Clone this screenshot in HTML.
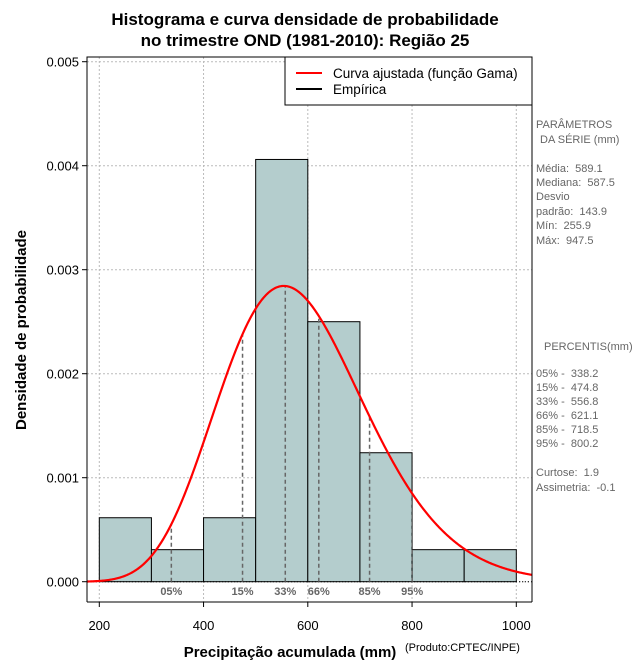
<!DOCTYPE html>
<html><head><meta charset="utf-8"><style>
body{margin:0;background:#fff;}
svg{display:block;font-family:"Liberation Sans",sans-serif;}
svg text{white-space:pre;}
</style></head><body>
<svg id="c" width="640" height="660" xmlns="http://www.w3.org/2000/svg">
<rect width="640" height="660" fill="#fff"/>
<text x="305" y="25" text-anchor="middle" font-size="17" font-weight="bold">Histograma e curva densidade de probabilidade</text>
<text x="305" y="46" text-anchor="middle" font-size="17" font-weight="bold">no trimestre OND (1981-2010): Região 25</text>
<g id="grid"></g>
<g id="bars"></g>
<g id="pct"></g>
<path id="curve" fill="none" stroke="#ff0000" stroke-width="2.2"/>
<g id="axes"></g>
<text x="290" y="657" text-anchor="middle" font-size="15" font-weight="bold">Precipitação acumulada (mm)</text>
<text x="405" y="651" font-size="11">(Produto:CPTEC/INPE)</text>
<text transform="translate(26,330) rotate(-90)" text-anchor="middle" font-size="15" font-weight="bold">Densidade de probabilidade</text>
<g>
<rect x="285" y="57" width="247" height="48" fill="#fff" stroke="#000" stroke-width="1"/>
<line x1="296" y1="73" x2="322" y2="73" stroke="#ff0000" stroke-width="2"/>
<line x1="296" y1="89" x2="322" y2="89" stroke="#000" stroke-width="2"/>
<text x="333" y="78" font-size="13.5">Curva ajustada (função Gama)</text>
<text x="333" y="94" font-size="13.5">Empírica</text>
</g>
<g font-size="11" fill="#666">
<text x="536" y="128">PARÂMETROS</text>
<text x="540" y="143">DA SÉRIE (mm)</text>
<text x="536" y="172">Média:  589.1</text>
<text x="536" y="186">Mediana:  587.5</text>
<text x="536" y="200">Desvio</text>
<text x="536" y="215">padrão:  143.9</text>
<text x="536" y="229">Mín:  255.9</text>
<text x="536" y="244">Máx:  947.5</text>
<text x="544" y="350">PERCENTIS(mm)</text>
<text x="536" y="377">05% -  338.2</text>
<text x="536" y="391">15% -  474.8</text>
<text x="536" y="405">33% -  556.8</text>
<text x="536" y="419">66% -  621.1</text>
<text x="536" y="433">85% -  718.5</text>
<text x="536" y="447">95% -  800.2</text>
<text x="536" y="476">Curtose:  1.9</text>
<text x="536" y="491">Assimetria:  -0.1</text>
</g>
</svg>
<script>
const binStarts=[200,300,400,500,600,700,800,900];
const binDensity=[0.000615,0.000308,0.000615,0.00406,0.0025,0.00124,0.000308,0.000308];
const binWidth=100;
const xTicks=[200,400,600,800,1000];
const yTicks=[0,0.001,0.002,0.003,0.004,0.005];
const yTickLabels=["0.000","0.001","0.002","0.003","0.004","0.005"];
const pctLabels=["05%","15%","33%","66%","85%","95%"];
const pctValues=[338.2,474.8,556.8,621.1,718.5,800.2];
const seriesMean=[589.1];
const seriesSd=[143.9];

const NS="http://www.w3.org/2000/svg";
const L=87,R=532,T=57,B=602;
function X(v){return 99.3+(v-200)*0.52125;}
function Y(d){return 581.7-d*104000;}
function mk(tag,attrs,parent){const e=document.createElementNS(NS,tag);for(const k in attrs)e.setAttribute(k,attrs[k]);parent.appendChild(e);return e;}
function lgamma(z){const g=7,c=[0.99999999999980993,676.5203681218851,-1259.1392167224028,771.32342877765313,-176.61502916214059,12.507343278686905,-0.13857109526572012,9.9843695780195716e-6,1.5056327351493116e-7];z-=1;let x=c[0];for(let i=1;i<g+2;i++)x+=c[i]/(z+i);const t=z+g+0.5;return 0.5*Math.log(2*Math.PI)+(z+0.5)*Math.log(t)-t+Math.log(x);}
const k=Math.pow(seriesMean[0]/seriesSd[0],2), th=seriesSd[0]*seriesSd[0]/seriesMean[0];
function pdf(v){if(v<=0)return 0;return Math.exp((k-1)*Math.log(v)-v/th-lgamma(k)-k*Math.log(th));}
function V(px){return 200+(px-99.3)/0.52125;}

const grid=document.getElementById('grid');
xTicks.forEach(t=>{const l=mk('line',{x1:X(t),x2:X(t),y1:T,y2:B,stroke:'#bbb','stroke-dasharray':'2,2'},grid);

});
yTicks.forEach(t=>{const l=mk('line',{x1:L,x2:R,y1:Y(t),y2:Y(t),stroke:'#bbb','stroke-dasharray':'2,2'},grid);

});

const bars=document.getElementById('bars');
binStarts.forEach((s,i)=>{const r=mk('rect',{x:X(s),y:Y(binDensity[i]),width:X(s+binWidth)-X(s),height:Y(0)-Y(binDensity[i]),fill:'#b4cdcd',stroke:'#000','stroke-width':1},bars);

});
mk('line',{x1:L,x2:R,y1:Y(0),y2:Y(0),stroke:'#000','stroke-dasharray':'1,2'},bars);

const pct=document.getElementById('pct');
pctValues.forEach((v,i)=>{const l=mk('line',{x1:X(v),x2:X(v),y1:Y(0),y2:Y(pdf(v)),stroke:'#666','stroke-width':1.5,'stroke-dasharray':'4,3'},pct);


const t=mk('text',{x:X(v),y:595,'text-anchor':'middle','font-size':11,'font-weight':'bold',fill:'#666'},pct);t.textContent=pctLabels[i];

});

let d='';for(let px=L;px<=R;px+=1){const v=V(px);d+=(px===L?'M':'L')+px+','+Y(pdf(v)).toFixed(2);}
document.getElementById('curve').setAttribute('d',d);

const ax=document.getElementById('axes');
mk('path',{d:`M${L},${B}L${L},${T}L${R},${T}L${R},${B}`,fill:'none',stroke:'#000'},ax);
mk('line',{x1:L,x2:R,y1:B,y2:B,stroke:'#000'},ax);
xTicks.forEach(t=>{mk('line',{x1:X(t),x2:X(t),y1:B,y2:B+5,stroke:'#000'},ax);
const tx=mk('text',{x:X(t),y:630,'text-anchor':'middle','font-size':13},ax);tx.textContent=t;

});
yTicks.forEach((t,i)=>{mk('line',{x1:L-5,x2:L,y1:Y(t),y2:Y(t),stroke:'#000'},ax);
const tx=mk('text',{x:L-8,y:Y(t)+5,'text-anchor':'end','font-size':13},ax);tx.textContent=yTickLabels[i];

});
</script>
</body></html>
